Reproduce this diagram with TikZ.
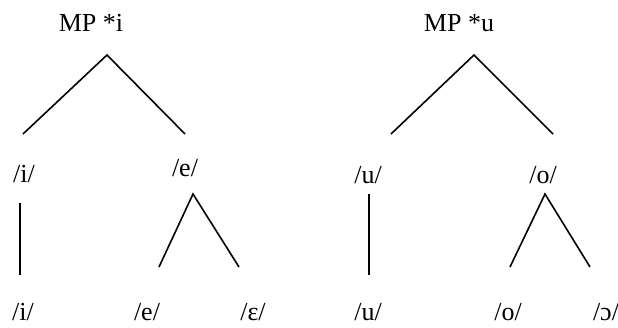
\documentclass[tikz,border=0pt]{standalone}
\usepackage{fontspec}
\setmainfont{Liberation Serif}
\usepackage{tikz}

\begin{document}
\begin{tikzpicture}[
    x=1pt, y=-1pt,
    lbl/.style={inner sep=0pt, anchor=base, font=\fontsize{26}{30}\selectfont},
    branch/.style={line width=1.6pt}
]
\useasboundingbox (0,0) rectangle (618,328);

% proto vowels
\node[lbl] (mpi) at (91, 32) {MP *i};
\node[lbl] (mpu) at (459, 32) {MP *u};

% first split
\node[lbl] (i1) at (24, 183) {/i/};
\node[lbl] (e1) at (185, 177) {/e/};
\node[lbl] (u1) at (368, 184) {/u/};
\node[lbl] (o1) at (543, 184) {/o/};

% reflexes
\node[lbl] (i2) at (23, 321) {/i/};
\node[lbl] (e2) at (147, 321) {/e/};
\node[lbl] (eps2) at (253, 321) {/ɛ/};
\node[lbl] (u2) at (368, 321) {/u/};
\node[lbl] (o2) at (508, 321) {/o/};
\node[lbl] (oo2) at (606, 321) {/ɔ/};

% branch points
\coordinate (mpi-top) at (107, 55);
\coordinate (mpi-l) at (23, 134);
\coordinate (mpi-r) at (185, 134);
\coordinate (mpu-top) at (474, 55);
\coordinate (mpu-l) at (391, 134);
\coordinate (mpu-r) at (553, 134);
\coordinate (i-top) at (20, 203);
\coordinate (i-bot) at (20, 275);
\coordinate (e-top) at (193, 194);
\coordinate (e-l) at (159, 267);
\coordinate (e-r) at (239, 267);
\coordinate (u-top) at (369, 194);
\coordinate (u-bot) at (369, 275);
\coordinate (o-top) at (545, 194);
\coordinate (o-l) at (510, 267);
\coordinate (o-r) at (590, 267);

\draw[branch] (mpi-l) -- (mpi-top) -- (mpi-r);
\draw[branch] (mpu-l) -- (mpu-top) -- (mpu-r);
\draw[branch] (i-top) -- (i-bot);
\draw[branch] (e-l) -- (e-top) -- (e-r);
\draw[branch] (u-top) -- (u-bot);
\draw[branch] (o-l) -- (o-top) -- (o-r);
\end{tikzpicture}
\end{document}
